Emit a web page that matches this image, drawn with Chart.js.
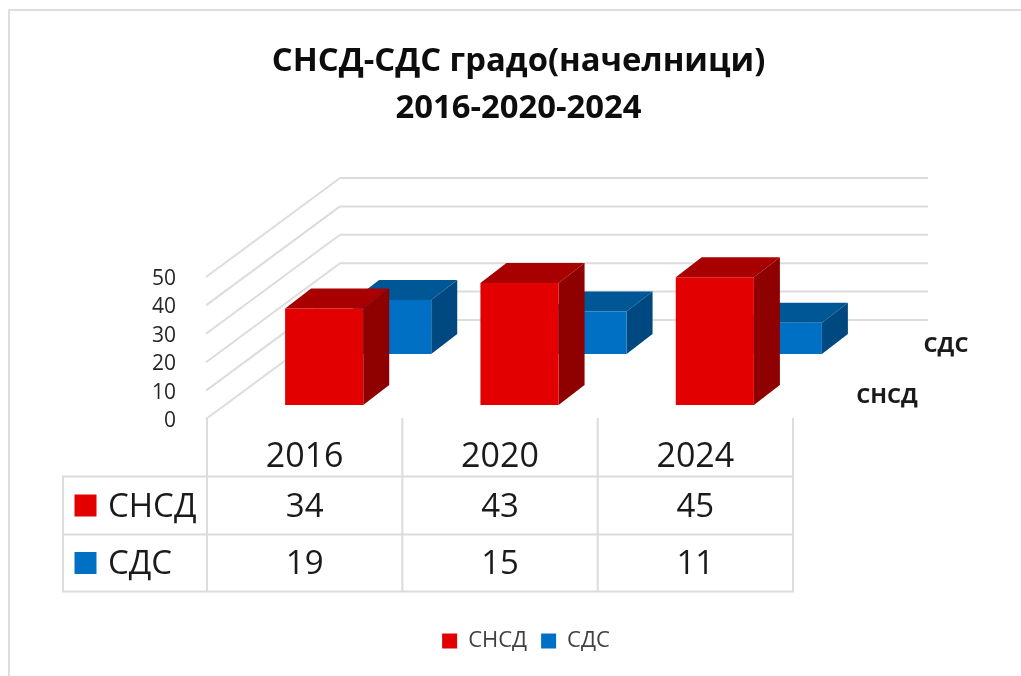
<!DOCTYPE html>
<html>
<head>
<meta charset="utf-8">
<style>
html,body{margin:0;padding:0;background:#fff;overflow:hidden;width:1021px;height:676px}
#frame{position:absolute;left:8px;top:9px;right:0;bottom:0;border-left:2px solid #dedede;border-top:2px solid #dedede}
#c{position:absolute;left:0;top:0}
</style>
<script src="https://cdn.jsdelivr.net/npm/chart.js@4"></script>
</head>
<body>
<div id="frame"></div>
<canvas id="c" width="1021" height="676"></canvas>
<script>
const years = ["2016","2020","2024"];
const snsd = [34,43,45];
const sds = [19,15,11];
const seriesNames = ["СНСД","СДС"];
const titleLines = ["СНСД-СДС градо(начелници)","2016-2020-2024"];

const font = '"Open Sans", sans-serif';
const gridCol = "#dcdcdc";
const faces = [
  {front:"#e20000",top:"#a80000",side:"#8f0000"},
  {front:"#0070c4",top:"#005796",side:"#004880"}
];
// the y tick text sits a little below its gridline in the original, so the
// scale is 3px lower and everything drawn on the walls is lifted back by this
const lift = -3;
// offset of each series row on the floor, and depth of one bar
const rowShift = [{dx:19.5,dy:-13+lift},{dx:87.5,dy:-64+lift}];
const barDepth = {dx:26,dy:-20};
const wall = {dx:133,dy:-98,backRight:928};

function poly(ctx,col,pts){
  ctx.fillStyle=col; ctx.beginPath();
  pts.forEach((p,i)=> i?ctx.lineTo(p[0],p[1]):ctx.moveTo(p[0],p[1]));
  ctx.closePath(); ctx.fill();
}
function line(ctx,x1,y1,x2,y2){ ctx.beginPath(); ctx.moveTo(x1,y1); ctx.lineTo(x2,y2); ctx.stroke(); }

const bars3d = {
  id:"bars3d",
  beforeDraw(chart){
    // title and legend centres are not the canvas centre in the original
    const t=chart.titleBlock, l=chart.legend;
    t.left=0; t.right=1037;
    l.left=0; l.right=1052;
    l.top=616;
  },
  beforeDatasetsDraw(chart){
    const ctx=chart.ctx, y=chart.scales.y, a=chart.chartArea;
    ctx.save();
    ctx.strokeStyle=gridCol; ctx.lineWidth=2;
    y.ticks.forEach((t,i)=>{
      const py=y.getPixelForTick(i)+lift;
      line(ctx,a.left-1,py+1,a.left+wall.dx,py+wall.dy);
      line(ctx,a.left+wall.dx,py+wall.dy,wall.backRight,py+wall.dy);
    });
    // back row first, so the front row covers it
    [1,0].forEach(si=>{
      const f=faces[si], s=rowShift[si];
      chart.getDatasetMeta(si).data.forEach(b=>{
        const l=b.x-b.width/2+s.dx, r=b.x+b.width/2+s.dx, top=b.y+s.dy, base=b.base+s.dy;
        const dx=barDepth.dx, dy=barDepth.dy;
        poly(ctx,f.top,[[l,top],[r,top],[r+dx,top+dy],[l+dx,top+dy]]);
        poly(ctx,f.side,[[r,top],[r+dx,top+dy],[r+dx,base+dy],[r,base]]);
        poly(ctx,f.front,[[l,top],[r,top],[r,base],[l,base]]);
      });
    });
    ctx.restore();
  },
  beforeDatasetDraw(){ return false; },
  afterDraw(chart){
    const ctx=chart.ctx, x=chart.scales.x, a=chart.chartArea;
    const rows=[476.5,534.5,591.5], tableLeft=63, tableTop=a.bottom+lift;
    ctx.save();
    // data table
    ctx.strokeStyle=gridCol; ctx.lineWidth=2;
    rows.forEach(r=>line(ctx,tableLeft-1,r,a.right+1,r));
    line(ctx,tableLeft,rows[0],tableLeft,rows[2]);
    line(ctx,a.left,tableTop,a.left,rows[2]);
    years.forEach((yr,i)=>{
      const edge=a.left+(a.right-a.left)*(i+1)/years.length;
      line(ctx,edge,tableTop,edge,rows[2]);
    });
    ctx.textBaseline="middle";
    [snsd,sds].forEach((vals,si)=>{
      const cy=(rows[si]+rows[si+1])/2;
      ctx.fillStyle=faces[si].front;
      ctx.fillRect(74.5,cy-11,22,22);
      ctx.fillStyle="#1a1a1a";
      ctx.textAlign="left"; ctx.font='33px '+font;
      ctx.fillText(seriesNames[si],108,cy+2);
      ctx.textAlign="center"; ctx.font='33px '+font;
      vals.forEach((v,i)=>ctx.fillText(String(v),x.getPixelForTick(i),cy+2));
    });
    // depth axis labels
    ctx.font='bold 22px '+font;
    ctx.textAlign="center";
    ctx.fillStyle="#1a1a1a";
    ctx.fillText(seriesNames[1],946,346);
    ctx.fillText(seriesNames[0],887,397);
    ctx.restore();
  }
};

new Chart(document.getElementById("c"),{
  type:"bar",
  data:{
    labels:years,
    datasets:[
      {label:seriesNames[0],data:snsd,backgroundColor:faces[0].front,borderWidth:0},
      {label:seriesNames[1],data:sds,backgroundColor:faces[1].front,borderWidth:0}
    ]
  },
  plugins:[bars3d],
  options:{
    responsive:false,
    animation:false,
    layout:{padding:{left:0,right:228,top:0,bottom:0}},
    datasets:{bar:{grouped:false,barPercentage:0.4,categoryPercentage:1}},
    plugins:{
      tooltip:{enabled:false},
      title:{
        display:true,
        text:titleLines,
        color:"#0d0d0d",
        font:{family:font,size:32.8,weight:"bold",lineHeight:47/32.8},
        padding:{top:38.5,bottom:146.5}
      },
      legend:{
        position:"bottom",
        labels:{color:"#404040",boxWidth:15,boxHeight:15,padding:14,font:{family:font,size:22}}
      }
    },
    scales:{
      x:{
        grid:{display:false},
        border:{display:false},
        ticks:{color:"#1a1a1a",padding:8,maxRotation:0,font:{family:font,size:34}},
        afterFit(s){ s.height=255-s.chart.legend.height; }
      },
      y:{
        min:0,max:50,
        grid:{display:false},
        border:{display:false},
        ticks:{stepSize:10,color:"#262626",padding:23,font:{family:font,size:21}},
        afterFit(s){ s.width=207; }
      }
    }
  }
});
</script>
</body>
</html>
